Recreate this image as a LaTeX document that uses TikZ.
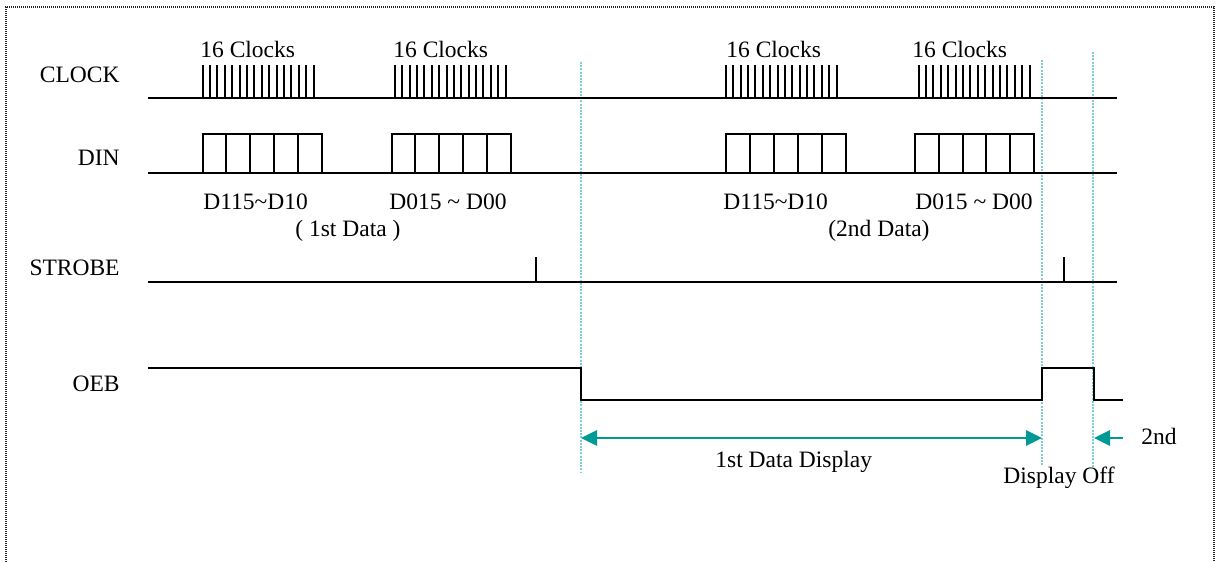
\documentclass[tikz,border=0pt]{standalone}
\usepackage{fontspec}
\setmainfont{Liberation Serif}
\usetikzlibrary{arrows.meta}
\definecolor{tealarrow}{HTML}{009A96}
\definecolor{guidecol}{HTML}{7FD0D0}
\begin{document}
\begin{tikzpicture}[x=0.5pt,y=-0.5pt,
  every node/.style={inner sep=0pt, font=\fontsize{11.75}{14}\selectfont},
  sig/.style={line width=1pt, black},
  pulse/.style={line width=0.9pt, black},
  guide/.style={guidecol, line width=0.6pt, dash pattern=on 1pt off 0.6pt},
  span/.style={tealarrow, line width=1.4pt, >={Triangle[length=8pt,width=7.5pt]}},
  lbl/.style={anchor=base east},
  txt/.style={anchor=base west},
  frame/.style={line width=0.6pt, dash pattern=on 0.5pt off 0.5pt, black!85}]
\useasboundingbox (0,0) rectangle (1221,562);
\fill[white] (0,0) rectangle (1221,562);
\draw[frame] (6,562) -- (6,7) -- (1214,7) -- (1214,562);

% signal labels
\node[lbl] (clk) at (120,83) {CLOCK};
\node[lbl] (din) at (120,165) {DIN};
\node[lbl] (stb) at (120,275) {STROBE};
\node[lbl] (oeb) at (120,391) {OEB};

% guide lines
\draw[guide] (581,62) -- (581,473);
\draw[guide] (1042,60) -- (1042,466);
\draw[guide] (1093,52) -- (1093,467);

% CLOCK
\draw[sig] (148,98) -- (1117,98);
\foreach \L/\R in {202.5/313.5, 395/505.5, 726/836.5, 918.5/1029.5} {
  \foreach \i in {0,...,15}
    \draw[pulse] ({round(\L+\i*(\R-\L)/15)},98) -- ++(0,-33);
}
\node[txt] (c1) at (200,57) {16 Clocks};
\node[txt] (c2) at (393,57) {16 Clocks};
\node[txt] (c3) at (726,57) {16 Clocks};
\node[txt] (c4) at (912,57) {16 Clocks};

% DIN
\draw[sig] (148,173) -- (1117,173);
\foreach \L/\R in {202.5/321.5, 391.5/510.5, 726/845.5, 915/1034} {
  \draw[sig] (\L,173) rectangle (\R,134);
  \foreach \i in {1,...,4}
    \draw[sig] ({\L+\i*(\R-\L)/5},134) -- ++(0,39);
}
\node[txt] (d1) at (203,209) {D115\textasciitilde D10};
\node[txt] (d2) at (389,209) {D015 \textasciitilde{} D00};
\node[txt] (d3) at (723,209) {D115\textasciitilde D10};
\node[txt] (d4) at (915,209) {D015 \textasciitilde{} D00};
\node[txt] (p1) at (295,236) {( 1st Data )};
\node[txt] (p2) at (828,236) {(2nd Data)};

% STROBE
\draw[sig] (148,282) -- (1117,282);
\draw[pulse] (536,282) -- (536,257);
\draw[pulse] (1064,282) -- (1064,257);

% OEB
\draw[sig] (148,368) -- (581,368) -- (581,400) -- (1042,400) -- (1042,368)
  -- (1094,368) -- (1094,400) -- (1123,400);

% arrows
\coordinate (a1) at (581,438);
\coordinate (a2) at (1042,438);
\coordinate (b1) at (1123,438);
\coordinate (b2) at (1094,438);
\draw[span, <->] (a1) -- (a2);
\draw[span, ->] (b1) -- (b2);
\node[txt] (disp) at (715,467) {1st Data Display};
\node[txt] (off) at (1003,483) {Display Off};
\node[txt] (snd) at (1141,444) {2nd};
\end{tikzpicture}
\end{document}
